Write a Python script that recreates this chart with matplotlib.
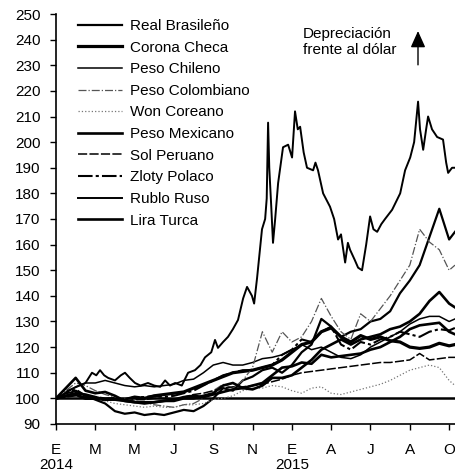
import matplotlib
matplotlib.use("Agg")
import matplotlib.pyplot as plt
import numpy as np

plt.rcParams["font.family"] = ["Liberation Sans", "DejaVu Sans"]

# ── data (indice, enero 2014 = 100) ─────────────────────────────
# x en meses desde enero 2014, cada medio mes
months = [0, 0.5, 1, 1.5, 2, 2.5, 3, 3.5, 4, 4.5, 5, 5.5, 6, 6.5, 7, 7.5,
          8, 8.5, 9, 9.5, 10, 10.5, 11, 11.5, 12, 12.5, 13, 13.5, 14, 14.5,
          15, 15.5, 16, 16.5, 17, 17.5, 18, 18.5, 19, 19.5, 20, 20.3]

real_bra = [100, 101.5, 103, 101, 99.5, 98, 95, 94, 94.5, 93.5, 94, 93.5,
            94.5, 95.5, 95, 97, 100, 104, 103, 107, 108.5, 111, 112, 110,
            113, 118, 121, 131, 128, 124, 126, 127, 130, 131, 134, 141,
            146, 152, 163, 174, 162, 165]
corona_che = [100, 101, 101.5, 100, 100, 99.5, 100, 99.5, 100.5, 100, 101,
              101.5, 102, 102.5, 104, 105.5, 107, 108.5, 110, 110.5, 111,
              112, 113, 115, 118, 121, 122, 126, 127.5, 124, 122, 124.5,
              123, 124, 122.5, 122, 120, 119.5, 120, 121.5, 120.5, 121]
peso_chi = [100, 102, 104.5, 106, 106, 107, 106, 105, 104.5, 105, 104.5,
            105, 105.5, 107, 107.5, 110, 113, 114, 113, 113, 114, 115.5,
            116, 117, 119, 121, 119, 120, 118, 116, 115.5, 117, 120, 122,
            124, 126, 129, 131, 132, 132, 130, 131]
peso_col = [100, 103, 106, 105, 103, 101.5, 100.5, 100, 99, 98.5, 97.5, 97,
            96.5, 97.5, 98, 100, 103, 105.5, 104, 107, 112, 126, 118, 126,
            122, 124, 130, 139, 132, 126, 123, 133, 130, 135, 140, 146,
            152, 166, 161, 158, 150, 152]
won_cor = [100, 101.5, 102, 101, 100.5, 99, 98, 97.5, 97, 96.5, 97, 96.5,
           96.5, 97.5, 97.5, 98, 99.5, 100, 101, 103, 104, 104, 105, 104.5,
           103, 102, 104, 104.5, 102, 101.5, 102.5, 103.5, 104.5, 105.5,
           107, 109, 111, 112, 113, 112, 107, 105]
peso_mex = [100, 101, 102, 101.5, 100.5, 99.5, 99.5, 99, 98.5, 98.5, 98.5,
            99, 99.5, 100.5, 101, 100.5, 101.5, 102.5, 103.5, 104, 105, 106,
            109, 112, 112.5, 114, 113.5, 117, 116, 116.5, 117, 117.5, 119,
            120, 122, 124, 127, 128.5, 129, 129.5, 126, 125]
sol_per = [100, 100.5, 101, 100.5, 100, 99.5, 99.5, 99, 99.5, 99.5, 100,
           100, 99.5, 100.5, 101.5, 102, 103, 104, 104.5, 104.5, 105, 105.5,
           106.5, 107.5, 109, 110, 110.5, 111, 111.5, 112, 112.5, 113,
           113.5, 114, 114, 114.5, 115, 117.5, 115, 115.5, 116, 116]
zloty_pol = [100, 102, 103.5, 101, 100.5, 100, 100, 99.5, 100.5, 100.5, 101,
             100.5, 101, 102, 103, 105, 107, 109, 110, 111, 111, 112, 113,
             117, 119, 123, 122, 126, 128, 121, 119, 122, 121, 123, 124,
             126, 125, 124, 126, 127, 126.5, 127.5]
lira_tur = [100, 104, 108, 103, 102, 102.5, 101, 99, 98.5, 98, 98.5, 99, 99,
            100, 100, 101, 102, 105, 106, 104, 103.5, 105, 108, 108, 109,
            112, 115, 119, 121, 123, 121, 123, 124, 125, 127, 128, 130, 133,
            138, 141.5, 137, 135.5]

# el rublo tiene mas detalle (picos de dic-2014 y ago-2015)
rublo_x = [0, 0.3, 0.6, 0.9, 1.2, 1.5, 1.83, 2.05, 2.24, 2.45, 2.65, 3.0,
           3.3, 3.51, 3.75, 4.02, 4.3, 4.68, 5.0, 5.3, 5.55, 5.8, 6.06, 6.4,
           6.72, 7.07, 7.35, 7.58, 7.9, 8.09, 8.24, 8.5, 8.75, 9.0, 9.26,
           9.52, 9.72, 9.97, 10.08, 10.23, 10.48, 10.64, 10.72, 10.79, 10.85,
           10.95, 11.04, 11.15, 11.3, 11.55, 11.81, 12.01, 12.16, 12.3,
           12.42, 12.6, 12.77, 13.08, 13.2, 13.33, 13.59, 13.94, 14.15,
           14.35, 14.5, 14.71, 14.85, 14.96, 15.2, 15.37, 15.57, 15.78,
           15.98, 16.15, 16.34, 16.55, 16.74, 17.1, 17.51, 17.76, 18.02,
           18.22, 18.42, 18.52, 18.68, 18.83, 18.93, 19.13, 19.39, 19.69,
           19.85, 19.95, 20.15, 20.31]
rublo_rus = [100, 101, 103, 104, 105, 106, 110, 109, 111, 109, 108, 107,
             109, 110, 108, 106, 105, 106, 105, 104.5, 107, 105, 106, 105,
             110, 111, 113, 116, 118, 122.8, 119.7, 122, 124, 127, 130.6,
             139, 143.5, 140, 137, 147, 166, 170, 178, 207.6, 190, 175,
             160.7, 170, 184, 198, 199, 194, 212, 205, 206, 196, 190, 189,
             192, 189, 180, 174.8, 170, 162, 164, 153, 160.7, 158, 154, 151,
             150, 160, 171, 166, 165, 168, 170, 173.6, 180, 189, 194, 200,
             215.8, 205, 197, 205, 210, 205, 202, 201, 192, 188, 190, 190]

tick_pos = [0, 2, 4, 6, 8, 10, 12, 14, 16, 18, 20]
tick_labels = ["E\n2014", "M", "M", "J", "S", "N", "E\n2015", "A", "J", "A", "O"]

# ── figure ──────────────────────────────────────────────────────
fig = plt.figure(figsize=(4.56, 4.75), dpi=100)
ax = fig.add_axes([0.1228, 0.1074, 0.8772, 0.8631])

ax.axhline(100, color="black", lw=1.8, zorder=1)

series = [
    (months, real_bra,   "Real Brasileño",  dict(color="black", lw=1.6, ls="-")),
    (months, corona_che, "Corona Checa",    dict(color="black", lw=2.3, ls="-")),
    (months, peso_chi,   "Peso Chileno",    dict(color="black", lw=1.1, ls="-")),
    (months, peso_col,   "Peso Colombiano", dict(color="#555555", lw=0.9, ls="-.")),
    (months, won_cor,    "Won Coreano",     dict(color="#777777", lw=0.9, ls=":")),
    (months, peso_mex,   "Peso Mexicano",   dict(color="black", lw=1.9, ls="-")),
    (months, sol_per,    "Sol Peruano",     dict(color="black", lw=1.1, ls=(0, (6, 1.5)))),
    (months, zloty_pol,  "Zloty Polaco",    dict(color="black", lw=1.5, ls=(0, (7, 1.5, 1.5, 1.5)))),
    (rublo_x, rublo_rus, "Rublo Ruso",      dict(color="black", lw=1.4, ls="-")),
    (months, lira_tur,   "Lira Turca",      dict(color="black", lw=1.9, ls="-")),
]
for xs, ys, lab, st in series:
    ax.plot(xs, ys, label=lab, zorder=2, **st)

ax.set_xlim(0, 20.35)
ax.set_ylim(90, 250)
ax.set_yticks(np.arange(90, 251, 10))
ax.set_xticks(tick_pos)
ax.set_xticklabels(tick_labels)
for t in ax.get_xticklabels():
    t.set_linespacing(1.05)

ax.spines["top"].set_visible(False)
ax.spines["right"].set_visible(False)
ax.spines["left"].set_linewidth(1.2)
ax.spines["bottom"].set_linewidth(1.2)
ax.tick_params(axis="y", direction="out", length=4, width=1, pad=7, labelsize=11)
ax.tick_params(axis="x", direction="out", length=4, width=1, pad=10, labelsize=11)

ax.legend(loc="upper left", bbox_to_anchor=(0.055, 0.988), frameon=False,
          fontsize=11, handlelength=2.9, handletextpad=0.5, labelspacing=0.5,
          borderpad=0, borderaxespad=0)

ax.text(0.6175, 0.968, "Depreciación\nfrente al dólar", transform=ax.transAxes,
        ha="left", va="top", fontsize=11, linespacing=1.15)
ax.annotate("", xy=(0.905, 0.9585), xytext=(0.905, 0.876),
            xycoords="axes fraction", textcoords="axes fraction",
            arrowprops=dict(arrowstyle="-|>,head_length=1.0,head_width=0.45",
                            mutation_scale=10, color="black", lw=1,
                            shrinkA=0, shrinkB=0))

fig.savefig("out.png", dpi=100)
